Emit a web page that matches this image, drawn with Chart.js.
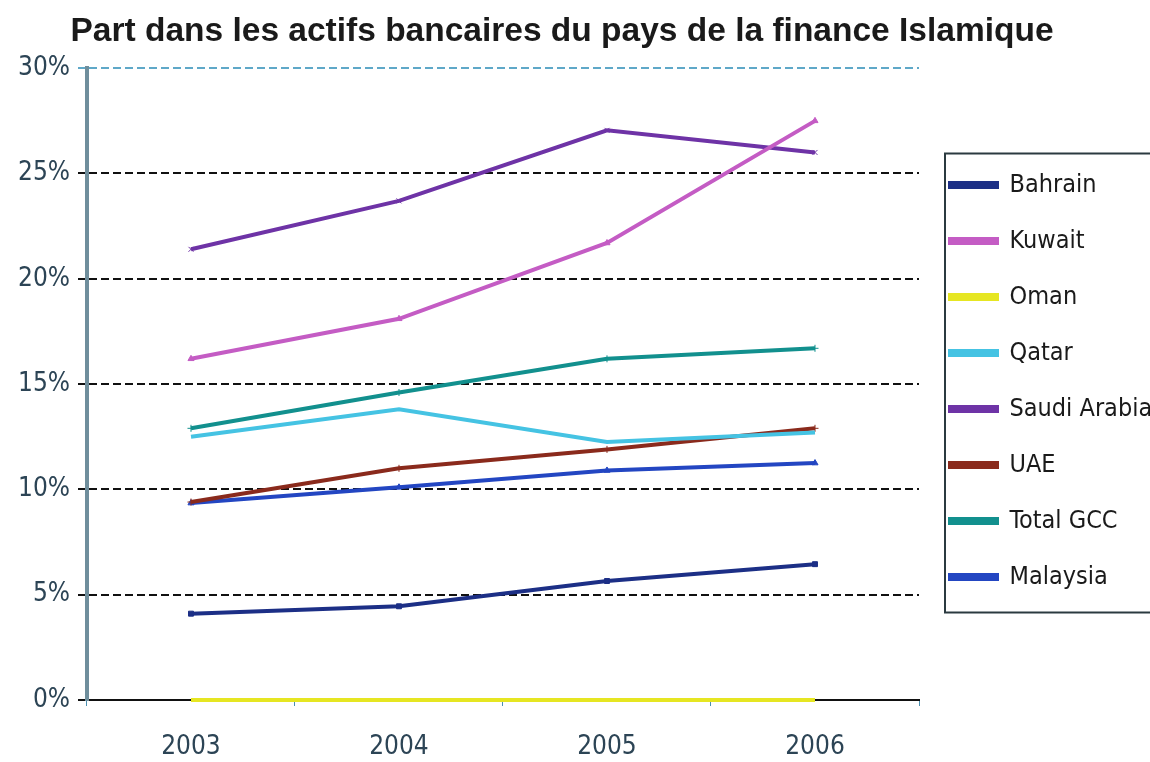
<!DOCTYPE html>
<html lang="fr">
<head>
    <meta charset="UTF-8">
    <title>Part dans les actifs bancaires du pays de la finance Islamique</title>
    <script src="https://cdn.jsdelivr.net/npm/chart.js"></script>
    <style>
        html, body {
            margin: 0;
            padding: 0;
            background: #ffffff;
        }
        #chart {
            display: block;
        }
    </style>
</head>
<body>
    <canvas id="chart" width="1150" height="762"></canvas>

    <script>
        // Données (% des actifs bancaires)
        const years = ['2003', '2004', '2005', '2006'];

        const bahrain     = [4.1, 4.45, 5.65, 6.45];
        const kuwait      = [16.2, 18.1, 21.7, 27.5];
        const oman        = [0, 0, 0, 0];
        const qatar       = [12.5, 13.8, 12.25, 12.7];
        const saudiArabia = [21.4, 23.7, 27.05, 26.0];
        const uae         = [9.4, 11.0, 11.9, 12.9];
        const totalGCC    = [12.9, 14.6, 16.2, 16.7];
        const malaysia    = [9.35, 10.1, 10.9, 11.25];

        const yTicks = [0, 5, 10, 15, 20, 25, 30];

        const narrow = '"DejaVu Sans Condensed", "Liberation Sans Narrow", sans-serif';

        function serie(label, data, color, style) {
            return {
                label: label,
                data: data,
                borderColor: color,
                backgroundColor: color,
                borderWidth: 4,
                pointStyle: style,
                pointRadius: 3.5,
                pointBorderWidth: 1,
                tension: 0,
                clip: 6
            };
        }

        // cadre autour de la légende + titre recentré sur la zone graphique
        const legendFrame = {
            id: 'legendFrame',
            afterLayout(chart) {
                const t = chart.titleBlock;
                if (t) {
                    t.left = 0;
                    t.right = 1124;
                    t.width = 1124;
                }
            },
            afterDraw(chart) {
                const lg = chart.legend;
                if (!lg || !lg.legendHitBoxes.length) return;
                const boxes = lg.legendHitBoxes;
                const first = boxes[0], last = boxes[boxes.length - 1];
                const ctx = chart.ctx;
                ctx.save();
                ctx.strokeStyle = '#2b3a40';
                ctx.lineWidth = 2;
                ctx.strokeRect(first.left - 5, first.top - 19, 240, (last.top + last.height) - first.top + 42);
                ctx.restore();
            }
        };

        new Chart(document.getElementById('chart'), {
            type: 'line',
            data: {
                labels: years,
                datasets: [
                    serie('Bahrain', bahrain, '#1c2f86', 'rect'),
                    serie('Kuwait', kuwait, '#c45cc4', 'triangle'),
                    serie('Oman', oman, '#e6e622', false),
                    serie('Qatar', qatar, '#45c3e3', false),
                    serie('Saudi Arabia', saudiArabia, '#6e33a6', 'crossRot'),
                    serie('UAE', uae, '#8a2a1c', 'cross'),
                    serie('Total GCC', totalGCC, '#12908e', 'cross'),
                    serie('Malaysia', malaysia, '#2346c2', 'triangle')
                ]
            },
            options: {
                responsive: false,
                animation: false,
                layout: {
                    padding: { left: 10, right: 0, top: 0, bottom: 0 }
                },
                plugins: {
                    title: {
                        display: true,
                        text: 'Part dans les actifs bancaires du pays de la finance Islamique',
                        color: '#1a1a1a',
                        font: { family: '"Liberation Sans", Arial, sans-serif', size: 33.5, weight: 'bold' },
                        padding: { top: 12, bottom: 16 }
                    },
                    legend: {
                        position: 'right',
                        maxWidth: 231,
                        labels: {
                            boxWidth: 47,
                            boxHeight: 4,
                            padding: 31,
                            color: '#1a1a1a',
                            font: { family: narrow, size: 25 }
                        }
                    },
                    tooltip: { enabled: false }
                },
                scales: {
                    x: {
                        offset: true,
                        afterFit(scale) {
                            scale.height = 62;
                        },
                        grid: {
                            drawOnChartArea: false,
                            drawTicks: true,
                            tickLength: 6,
                            tickColor: '#4a8fb0',
                            offset: true
                        },
                        border: { color: '#111111', width: 2 },
                        ticks: {
                            color: '#2c4455',
                            font: { family: narrow, size: 26 },
                            padding: 26
                        }
                    },
                    y: {
                        min: 0,
                        max: 30,
                        afterBuildTicks(axis) {
                            axis.ticks = yTicks.map(v => ({ value: v }));
                        },
                        grid: {
                            color: ctx => ctx.tick.value === 30 ? '#5fa8c8' : (ctx.tick.value === 0 ? 'rgba(0,0,0,0)' : '#111111'),
                            tickColor: ctx => ctx.tick.value === 30 ? '#5fa8c8' : '#111111',
                            lineWidth: 2,
                            tickLength: 9,
                            drawTicks: true
                        },
                        border: { color: '#6f8e9c', width: 4, dash: [8, 4] },
                        ticks: {
                            color: '#2c4455',
                            font: { family: narrow, size: 26 },
                            padding: 8,
                            callback: v => v + '%'
                        }
                    }
                }
            },
            plugins: [legendFrame]
        });
    </script>
</body>
</html>
